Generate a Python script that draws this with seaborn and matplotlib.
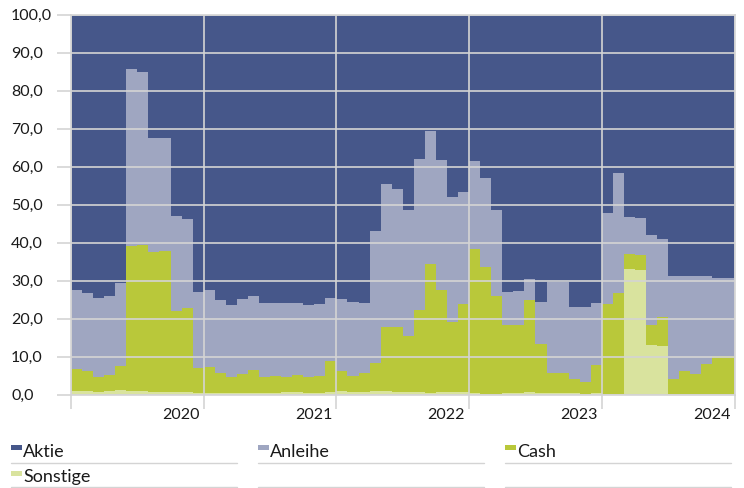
import numpy as np
import pandas as pd
import matplotlib
matplotlib.use("Agg")
import matplotlib.pyplot as plt
import matplotlib.transforms as mtransforms
from matplotlib.patches import Rectangle
from matplotlib.lines import Line2D
import seaborn as sns

# Monthly allocation by asset class, in percent (60 months)
sonstige = [1.1, 1.0, 0.9, 1.0, 1.4, 1.0, 1.1, 0.8, 0.9, 0.7,
            0.7, 0.6, 0.6, 0.5, 0.5, 0.6, 0.6, 0.5, 0.5, 0.7,
            0.7, 0.6, 0.6, 0.7, 1.0, 0.9, 0.9, 1.0, 1.0, 0.9,
            0.9, 0.7, 0.6, 0.7, 0.9, 0.8, 0.6, 0.3, 0.3, 0.4,
            0.5, 0.7, 0.5, 0.5, 0.5, 0.4, 0.3, 0.4, 0.2, 0.2,
            33.2, 33.0, 13.2, 12.9, 0.2, 0.2, 0.2, 0.2, 0.2, 0.2]
cash = [5.7, 5.3, 3.9, 4.3, 6.3, 38.1, 38.5, 36.8, 37.0, 21.3,
        22.2, 6.4, 6.7, 5.2, 4.3, 5.0, 6.1, 4.3, 4.5, 4.0,
        4.6, 4.1, 4.5, 8.3, 5.2, 4.2, 4.9, 7.4, 16.9, 16.9,
        14.5, 21.7, 34.0, 27.0, 18.2, 23.1, 37.9, 33.4, 25.8, 17.9,
        18.0, 24.4, 13.0, 5.4, 5.2, 3.7, 3.2, 7.4, 23.8, 26.7,
        3.9, 3.8, 5.1, 7.5, 4.0, 6.0, 5.4, 7.9, 10.1, 10.1]
anleihe = [20.9, 20.5, 20.8, 20.8, 21.7, 46.7, 45.5, 30.0, 29.7, 25.2,
           23.5, 20.1, 20.4, 19.4, 18.8, 19.6, 19.4, 19.4, 19.2, 19.4,
           19.0, 19.1, 18.9, 16.6, 19.0, 19.4, 18.4, 34.8, 37.5, 36.5,
           33.2, 39.7, 34.8, 34.2, 33.0, 29.4, 23.0, 23.3, 22.7, 8.8,
           8.8, 5.5, 10.9, 23.9, 24.0, 19.1, 19.7, 16.3, 23.8, 31.6,
           9.8, 9.7, 23.7, 20.6, 27.1, 25.0, 25.6, 23.2, 20.6, 20.6]
aktie = [72.3, 73.2, 74.4, 73.9, 70.6, 14.2, 14.9, 32.4, 32.4, 52.8,
         53.6, 72.9, 72.3, 74.9, 76.4, 74.8, 73.9, 75.8, 75.8, 75.9,
         75.7, 76.2, 76.0, 74.4, 74.8, 75.5, 75.8, 56.8, 44.6, 45.7,
         51.4, 37.9, 30.6, 38.1, 47.9, 46.7, 38.5, 43.0, 51.2, 72.9,
         72.7, 69.4, 75.6, 70.2, 70.3, 76.8, 76.8, 75.9, 52.2, 41.5,
         53.1, 53.5, 58.0, 59.0, 68.7, 68.8, 68.8, 68.7, 69.1, 69.1]

klassen = ["Aktie", "Anleihe", "Cash", "Sonstige"]
farben = {"Aktie": "#46578a", "Anleihe": "#9fa6c1",
          "Cash": "#b9c83a", "Sonstige": "#d9e39e"}
jahre = ["2020", "2021", "2022", "2023", "2024"]
y_ticks = np.arange(0, 101, 10)

n = len(aktie)
df = pd.DataFrame({
    "monat": np.tile(np.arange(n) + 0.5, len(klassen)),
    "anteil": np.concatenate([aktie, anleihe, cash, sonstige]),
    "klasse": np.repeat(klassen, n),
})

sns.set_theme(style="white")
plt.rcParams["font.family"] = ["Lato", "DejaVu Sans"]

W, H = 744, 489
grid_c = "#d4d4d4"
text_c = "#1a1a1a"

fig = plt.figure(figsize=(W / 100, H / 100), dpi=100)
ax = fig.add_axes([71 / W, 1 - 396 / H, (734.5 - 71) / W, (396 - 16) / H])

sns.histplot(data=df, x="monat", weights="anteil", hue="klasse",
             hue_order=klassen, palette=farben, multiple="stack",
             element="step", bins=n, binrange=(0, n), linewidth=0,
             alpha=1, legend=False, antialiased=False, ax=ax)

ax.set_xlim(0, n)
ax.set_ylim(0, 100)
ax.set_xlabel("")
ax.set_ylabel("")

# grid drawn above the filled areas
ax.set_axisbelow(False)
ax.set_yticks(y_ticks)
ax.set_xticks(np.arange(0, n + 1, 12))
ax.grid(True, color=grid_c, lw=1.2)
for sp in ax.spines.values():
    sp.set_color(grid_c)
    sp.set_linewidth(1.2)
ax.tick_params(axis="both", length=10, width=1.2, color=grid_c,
               direction="out", bottom=True, left=True)
ax.tick_params(axis="y", labelleft=False)
ax.tick_params(axis="x", pad=-1.5, labelsize=11.5, labelcolor=text_c)

ax.set_xticklabels([""] + jahre)
off = mtransforms.ScaledTranslation(-4 / 100, 0, fig.dpi_scale_trans)
for lab in ax.get_xticklabels():
    lab.set_ha("right")
    lab.set_transform(lab.get_transform() + off)

# y labels, left aligned at the figure margin
ytrans = mtransforms.blended_transform_factory(fig.transFigure, ax.transData)
for v in y_ticks:
    ax.text(11 / W, v, f"{v:.1f}".replace(".", ","), transform=ytrans,
            ha="left", va="center", fontsize=11.5, color=text_c)

# legend in three columns with rules under each entry
cols = [11, 258, 505]
col_w = 226
rows = [(448.5, 457.0, 463.5), (474.5, 482.0, 487.7)]
for r, (cy, base, uy) in enumerate(rows):
    for c, x0 in enumerate(cols):
        fig.add_artist(Line2D([x0 / W, (x0 + col_w) / W], [1 - uy / H] * 2,
                              color=grid_c, lw=1.0))
for i, k in enumerate(klassen):
    r, c = divmod(i, 3)
    cy, base, uy = rows[r]
    x0 = cols[c]
    fig.add_artist(Rectangle((x0 / W, 1 - (cy + 2.5) / H), 10.7 / W, 5 / H,
                             transform=fig.transFigure, color=farben[k], lw=0))
    fig.text((x0 + 12.3) / W, 1 - base / H, k, va="baseline", ha="left",
             fontsize=13, color=text_c)

fig.savefig("out.png", dpi=100)
